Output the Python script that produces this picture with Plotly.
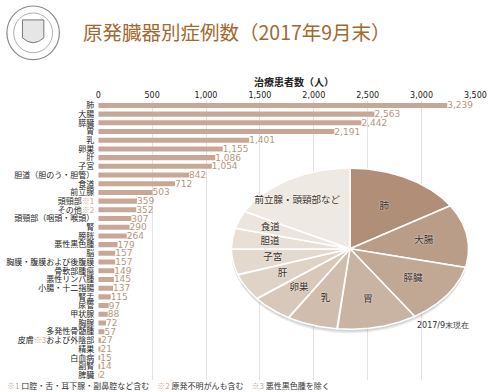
import numpy as np
import plotly.graph_objects as go

# ---------------- data ----------------
categories = ["肺", "大腸", "膵臓", "胃", "乳", "卵巣", "肝", "子宮",
              "胆道（胆のう・胆管）", "食道", "前立腺", "頭頸部<span style='color:#c9a592'>※1</span>",
              "その他<span style='color:#c9a592'>※2</span>", "頭頸部（咽頭・喉頭）", "腎", "膀胱",
              "悪性黒色腫", "脳", "胸膜・腹膜および後腹膜", "骨軟部腫瘍", "悪性リンパ腫",
              "小腸・十二指腸", "腎盂", "尿管", "甲状腺", "胸腺", "多発性骨髄腫",
              "皮膚<span style='color:#c9a592'>※3</span>および外陰部", "精巣", "白血病", "副腎", "脾臓"]
counts = [3239, 2563, 2442, 2191, 1401, 1155, 1086, 1054, 842, 712, 503, 359, 352,
          307, 290, 264, 179, 157, 157, 149, 145, 137, 115, 97, 88, 72, 57, 27, 21, 15, 14, 2]
x_ticks = [0, 500, 1000, 1500, 2000, 2500, 3000, 3500]

pie_labels = ["肺", "大腸", "膵臓", "胃", "乳", "卵巣", "肝", "子宮", "胆道", "食道", "前立腺・頭頸部など"]
pie_values = counts[:10] + [sum(counts[10:])]
pie_colors = ["#b08e77", "#b99d88", "#c1a895", "#c9b3a2", "#d1bdae", "#d8c8ba",
              "#dfd2c6", "#e4d9cf", "#e8dfd7", "#ece5de", "#efe9e4"]

BAR_COLOR = "#c8a796"
LABEL_COLOR = "#b8967f"

fig = go.Figure()

# ---------------- bar chart ----------------
fig.add_trace(go.Bar(
    y=categories, x=counts, orientation="h",
    marker=dict(color=BAR_COLOR, line=dict(width=0)),
    text=counts, texttemplate="%{x:,}", textposition="outside",
    constraintext="none",
    textfont=dict(family="DejaVu Sans", size=9, color=LABEL_COLOR),
    cliponaxis=False, xaxis="x", yaxis="y", showlegend=False, hoverinfo="skip",
))

# ---------------- elliptical pie (overlay pixel axes) ----------------
cx, cy, rx, ry = 357, 248, 122, 81
total = sum(pie_values)
fr = np.cumsum([0] + pie_values) / total * 2 * np.pi

# soft shadow
tt = np.linspace(0, 2 * np.pi, 200)
for off, op in [(4, 0.10), (2.5, 0.12)]:
    fig.add_trace(go.Scatter(
        x=cx + rx * np.sin(tt), y=cy + off - ry * np.cos(tt), mode="lines",
        fill="toself", fillcolor=f"rgba(60,60,60,{op})", line=dict(width=0),
        xaxis="x2", yaxis="y2", showlegend=False, hoverinfo="skip"))

for i, (lab, col) in enumerate(zip(pie_labels, pie_colors)):
    t = np.linspace(fr[i], fr[i + 1], 80)
    xs = np.concatenate([[cx], cx + rx * np.sin(t), [cx]])
    ys = np.concatenate([[cy], cy - ry * np.cos(t), [cy]])
    fig.add_trace(go.Scatter(
        x=xs, y=ys, mode="lines", fill="toself", fillcolor=col,
        line=dict(color="white", width=1.5),
        xaxis="x2", yaxis="y2", showlegend=False, hoverinfo="skip"))

mid = (fr[:-1] + fr[1:]) / 2
f = np.array([0.6, 0.63, 0.65, 0.65, 0.65, 0.65, 0.65, 0.66, 0.68, 0.72, 0.7])
lx = cx + rx * f * np.sin(mid)
ly = cy - ry * f * np.cos(mid)
lx[-1] -= 10
fig.add_trace(go.Scatter(
    x=lx, y=ly, mode="text", text=pie_labels,
    textfont=dict(family="Noto Sans CJK JP", size=9.5, color="#3a2e28",
                  shadow="0px 0px 2px white"),
    xaxis="x2", yaxis="y2", showlegend=False, hoverinfo="skip"))

# ---------------- layout ----------------
fig.update_layout(
    width=500, height=392,
    margin=dict(l=0, r=0, t=0, b=0),
    paper_bgcolor="white", plot_bgcolor="rgba(0,0,0,0)",
    bargap=0.42,
    font=dict(family="Noto Sans CJK JP", color="#222"),
    xaxis=dict(domain=[0.196, 0.972], range=[0, 3500], side="top",
               tickvals=x_ticks, tickformat=",", showgrid=True,
               gridcolor="#e3e3e3", gridwidth=1, zeroline=False,
               showline=False, ticks="",
               tickfont=dict(family="DejaVu Sans", size=8, color="#222"),
               anchor="y", fixedrange=True),
    yaxis=dict(domain=[0.032, 0.746], type="category", autorange="reversed",
               categoryorder="array", categoryarray=categories,
               showgrid=False, ticks="", showline=False, ticklabelstandoff=3,
               tickmode="array", tickvals=categories, ticktext=categories,
               tickfont=dict(family="Noto Sans CJK JP", size=8, color="#222"),
               anchor="x", fixedrange=True),
    xaxis2=dict(domain=[0, 1], range=[0, 500], visible=False, anchor="y2", fixedrange=True),
    yaxis2=dict(domain=[0, 1], range=[392, 0], visible=False, anchor="x2", fixedrange=True),
)

# logo (simple seal outline)
fig.add_shape(type="circle", xref="x2", yref="y2", x0=4, y0=4, x1=58, y1=58,
              line=dict(color="#8a8a8a", width=1.2))
fig.add_shape(type="circle", xref="x2", yref="y2", x0=11, y0=11, x1=51, y1=51,
              line=dict(color="#9a9a9a", width=0.8))
fig.add_shape(type="path", xref="x2", yref="y2",
              path="M 20 18 L 42 18 L 42 36 Q 31 46 20 36 Z",
              line=dict(color="#777", width=1), fillcolor="#e6e6e6")

annots = [
    dict(text="原発臓器別症例数（2017年9月末）", x=80, y=30, xanchor="left", yanchor="middle",
         font=dict(family="Noto Sans CJK JP", size=19.5, color="#a2692f")),
    dict(text="<b>治療患者数（人）</b>", x=299, y=80, xanchor="center", yanchor="middle",
         font=dict(family="Noto Sans CJK JP", size=10, color="#222")),
    dict(text="2017/9末現在", x=453, y=325, xanchor="center", yanchor="middle",
         font=dict(family="DejaVu Sans", size=8, color="#333")),
    dict(text="<span style='color:#c9a592'>※1</span> 口腔・舌・耳下腺・副鼻腔など含む　"
              "<span style='color:#c9a592'>※2</span> 原発不明がんも含む　"
              "<span style='color:#c9a592'>※3</span> 悪性黒色腫を除く",
         x=2, y=385, xanchor="left", yanchor="middle",
         font=dict(family="Noto Sans CJK JP", size=8, color="#333")),
]
for a in annots:
    fig.add_annotation(xref="x2", yref="y2", showarrow=False, **a)

fig.write_html("out.html", config={"displayModeBar": False},
               post_script="document.body.style.margin='0';document.body.style.overflow='hidden';")
